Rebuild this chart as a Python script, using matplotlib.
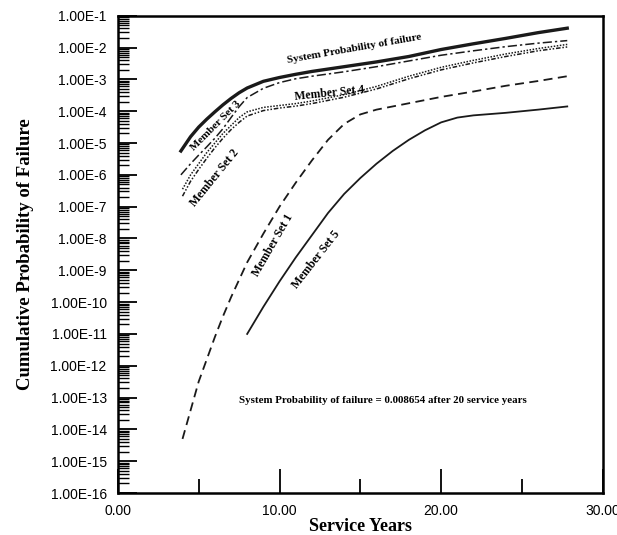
import matplotlib.pyplot as plt
import matplotlib.ticker as mticker
import numpy as np

# values, stored as log10 of the probability
sys_x = [3.9, 4.5, 5, 5.5, 6, 6.5, 7, 7.5, 8, 9, 10, 11, 12, 14, 16, 18, 20, 22, 24, 26, 27.8]
sys_log = [-5.25, -4.8, -4.5, -4.25, -4.02, -3.8, -3.6, -3.42, -3.27, -3.06, -2.94, -2.84, -2.75,
           -2.6, -2.45, -2.28, -2.06, -1.88, -1.71, -1.53, -1.39]

set3_x = [3.9, 4.5, 5, 5.5, 6, 6.5, 7, 7.5, 8, 9, 10, 11, 12, 14, 16, 18, 20, 22, 24, 26, 27.8]
set3_log = [-6.0, -5.65, -5.38, -5.12, -4.85, -4.55, -4.2, -3.86, -3.57, -3.28, -3.1, -2.98, -2.9,
            -2.76, -2.6, -2.42, -2.24, -2.1, -1.97, -1.86, -1.78]

set4_x = [4.0, 4.5, 5, 5.5, 6, 6.5, 7, 7.5, 8, 9, 10, 11, 12, 14, 16, 18, 20, 22, 24, 26, 27.8]
set4_log = [-6.45, -6.0, -5.65, -5.3, -5.0, -4.7, -4.45, -4.2, -4.02, -3.88, -3.82, -3.76, -3.68,
            -3.48, -3.22, -2.9, -2.62, -2.4, -2.2, -2.03, -1.9]

set2_x = [4.0, 4.5, 5, 5.5, 6, 6.5, 7, 7.5, 8, 9, 10, 11, 12, 14, 16, 18, 20, 22, 24, 26, 27.8]
set2_log = [-6.67, -6.2, -5.83, -5.48, -5.15, -4.85, -4.58, -4.35, -4.15, -3.98, -3.9, -3.84, -3.76,
            -3.56, -3.3, -2.98, -2.7, -2.48, -2.28, -2.1, -1.98]

set1_x = [4.0, 4.5, 5, 5.5, 6, 6.5, 7, 7.5, 8, 9, 10, 11, 12, 13, 14, 15, 16, 18, 20, 22, 24, 26, 27.8]
set1_log = [-14.3, -13.4, -12.5, -11.8, -11.1, -10.45, -9.85, -9.3, -8.75, -7.85, -7.0, -6.25, -5.55,
            -4.9, -4.4, -4.1, -3.95, -3.75, -3.55, -3.38, -3.2, -3.05, -2.9]

set5_x = [8.0, 9, 10, 11, 12, 13, 14, 15, 16, 17, 18, 19, 20, 21, 22, 24, 26, 27.8]
set5_log = [-11.0, -10.15, -9.35, -8.6, -7.9, -7.2, -6.6, -6.1, -5.65, -5.25, -4.9, -4.6, -4.35,
            -4.2, -4.13, -4.05, -3.95, -3.85]

ytick_exp = list(range(-16, 0))
xticks = [0, 10, 20, 30]

serif = 'Liberation Serif'
sans = 'Liberation Sans'

fig = plt.figure(figsize=(6.17, 5.35), dpi=100)
ax = fig.add_axes([0.191, 0.0785, 0.786, 0.892])

def p(v):
    return 10.0 ** np.array(v)

ax.plot(sys_x, p(sys_log), color='#1a1a1a', lw=2.4, ls='-')
ax.plot(set3_x, p(set3_log), color='#1a1a1a', lw=1.1, ls=(0, (6, 2, 1.5, 2)))
ax.plot(set4_x, p(set4_log), color='#1a1a1a', lw=1.1, ls=(0, (1, 1)))
ax.plot(set2_x, p(set2_log), color='#1a1a1a', lw=1.1, ls=(0, (3, 1.2, 1, 1.2, 1, 1.2)))
ax.plot(set1_x, p(set1_log), color='#1a1a1a', lw=1.3, ls=(0, (5, 3)))
ax.plot(set5_x, p(set5_log), color='#1a1a1a', lw=1.3, ls='-')

ax.set_yscale('log')
ax.set_xlim(0, 30)
ax.set_ylim(1e-16, 1e-1)

ax.set_yticks([10.0 ** e for e in ytick_exp])
ax.set_yticklabels(['1.00E%d' % e for e in ytick_exp], fontfamily=sans, fontsize=10)
ax.yaxis.set_minor_locator(mticker.LogLocator(base=10, subs=np.arange(2, 10), numticks=100))
ax.yaxis.set_minor_formatter(mticker.NullFormatter())

ax.set_xticks(xticks)
ax.set_xticklabels(['%.2f' % v for v in xticks], fontfamily=sans, fontsize=10)
ax.set_xticks([5, 15, 25], minor=True)

ax.tick_params(axis='y', which='major', direction='in', length=14, width=1.3, pad=8)
ax.tick_params(axis='y', which='minor', direction='in', length=8, width=1.0)
ax.tick_params(axis='x', which='major', direction='in', length=17, width=1.3, pad=8)
ax.tick_params(axis='x', which='minor', direction='in', length=10, width=1.3)
for s in ax.spines.values():
    s.set_linewidth(1.8)

ax.set_xlabel('Service Years', fontfamily=serif, fontweight='bold', fontsize=13, labelpad=0)
ax.set_ylabel('Cumulative Probability of Failure', fontfamily=serif, fontweight='bold',
              fontsize=13.5, labelpad=12)

lab = dict(fontfamily=serif, fontweight='bold', ha='center', va='center',
           rotation_mode='anchor')
ax.text(14.6, p(-2.03), 'System Probability of failure', rotation=10, fontsize=8, **lab)
ax.text(6.05, p(-4.45), 'Member Set 3', rotation=45, fontsize=8, **lab)
ax.text(6.0, p(-6.1), 'Member Set 2', rotation=51, fontsize=8.5, **lab)
ax.text(13.1, p(-3.43), 'Member Set 4', rotation=6, fontsize=8.5, **lab)
ax.text(9.6, p(-8.2), 'Member Set 1', rotation=60, fontsize=8.5, **lab)
ax.text(12.3, p(-8.66), 'Member Set 5', rotation=52, fontsize=8.5, **lab)
ax.text(16.4, p(-13.1), 'System Probability of failure = 0.008654 after 20 service years',
        fontsize=7.8, **lab)

fig.savefig('out.png', dpi=100)
